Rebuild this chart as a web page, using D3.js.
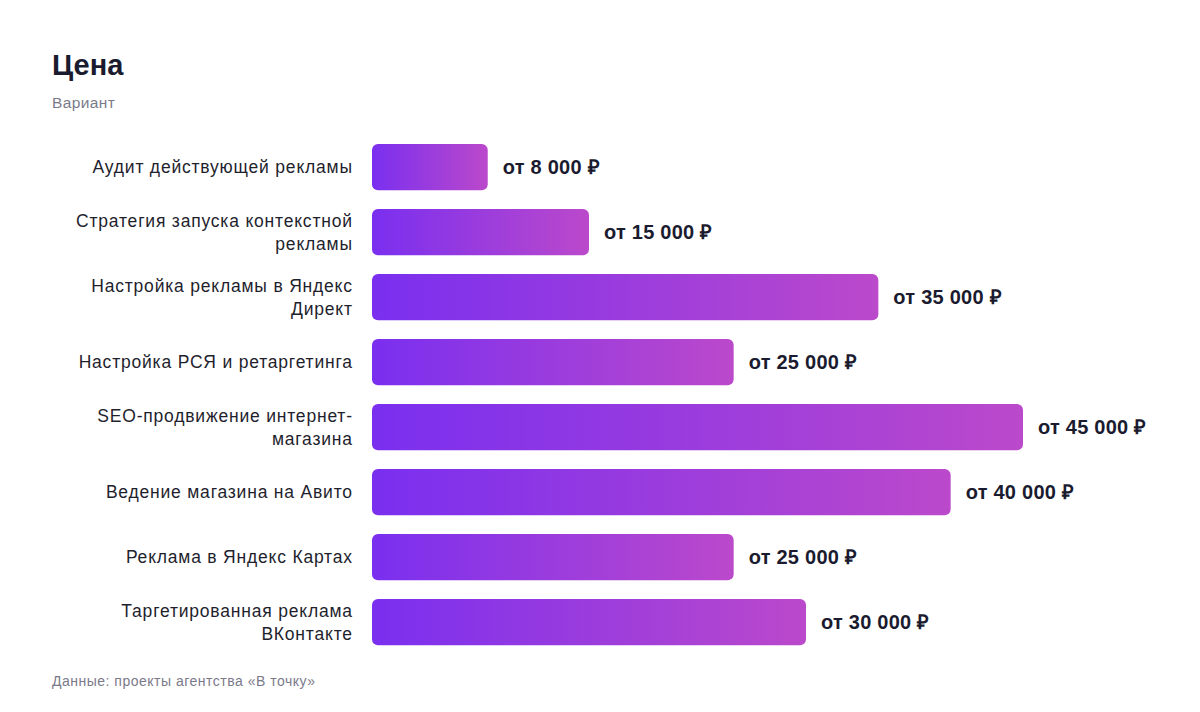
<!DOCTYPE html>
<html><head><meta charset="utf-8">
<script src="https://cdn.jsdelivr.net/npm/d3@7"></script>
<style>
body{margin:0;background:#fff;}
svg text{font-family:"Liberation Sans",Arial,Helvetica,sans-serif;}
</style></head>
<body><svg id="c" width="1200" height="712"></svg>
<script>
const categories = [
  "Аудит действующей рекламы",
  "Стратегия запуска контекстной рекламы",
  "Настройка рекламы в Яндекс Директ",
  "Настройка РСЯ и ретаргетинга",
  "SEO-продвижение интернет-магазина",
  "Ведение магазина на Авито",
  "Реклама в Яндекс Картах",
  "Таргетированная реклама ВКонтакте"
];
const prices = [8000, 15000, 35000, 25000, 45000, 40000, 25000, 30000];
const titleText = "Цена";
const subtitleText = "Вариант";
const sourceText = "Данные: проекты агентства «В точку»";

const svg = d3.select("#c");
const defs = svg.append("defs");
const grad = defs.append("linearGradient").attr("id","g").attr("x1","0").attr("x2","1").attr("y1","0").attr("y2","0");
grad.append("stop").attr("offset","0%").attr("stop-color","#7a2fef");
grad.append("stop").attr("offset","100%").attr("stop-color","#bb49cb");

svg.append("text").attr("x",52).attr("y",75).text(titleText)
  .attr("font-size",29).attr("font-weight","bold").attr("fill","#1b1b2f");
svg.append("text").attr("x",52).attr("y",108).text(subtitleText)
  .attr("font-size",15.5).attr("letter-spacing",0.4).attr("fill","#7a7a8a");
svg.append("text").attr("x",52).attr("y",686).text(sourceText)
  .attr("font-size",14).attr("letter-spacing",0.5).attr("fill","#7a7a8a");

const x = d3.scaleLinear().domain([0, 45000]).range([372, 1023]);
const y = d3.scaleBand().domain(d3.range(categories.length)).range([125.2, 664]).paddingInner(0.29).paddingOuter(0.29);

const fmt = v => "от " + d3.format(",")(v).replace(/,/g, " ") + " ₽";

const g = svg.append("g");
g.selectAll("rect").data(prices).join("rect")
  .attr("x", x(0)).attr("y",(d,i)=>y(i))
  .attr("width", d=>x(d)-x(0)).attr("height", y.bandwidth())
  .attr("rx",6).attr("fill","url(#g)");

g.selectAll("text.val").data(prices).join("text").attr("class","val")
  .attr("x", d=>x(d)+15).attr("y",(d,i)=>y(i)+y.bandwidth()/2)
  .attr("dy","0.36em").attr("font-size",20).attr("letter-spacing",0.25)
  .attr("font-weight","bold").attr("fill","#1b1b2f")
  .text(d=>fmt(d));

// labels with wrapping
const maxW = 290;
const labels = g.selectAll("text.lab").data(categories).join("text").attr("class","lab")
  .attr("font-size",17.5).attr("letter-spacing",0.8).attr("fill","#1f1f2e").attr("text-anchor","end");
labels.each(function(d,i){
  const t = d3.select(this);
  const pieces = d.split(/(?<=-)|\s+/);
  const lines = [];
  let cur = "";
  const tmp = t.append("tspan");
  const measure = s => { tmp.text(s); return tmp.node().getComputedTextLength(); };
  for (const p of pieces) {
    const cand = cur === "" ? p : (cur.endsWith("-") ? cur + p : cur + " " + p);
    if (cur !== "" && measure(cand) > maxW) { lines.push(cur); cur = p; }
    else cur = cand;
  }
  if (cur) lines.push(cur);
  tmp.remove();
  const lh = 23;
  const cy = y(i) + y.bandwidth()/2;
  lines.forEach((ln,k)=>{
    t.append("tspan").attr("x",352.8).attr("y", cy + (k - (lines.length-1)/2)*lh).attr("dy","0.36em").text(ln);
  });
});
</script></body></html>
